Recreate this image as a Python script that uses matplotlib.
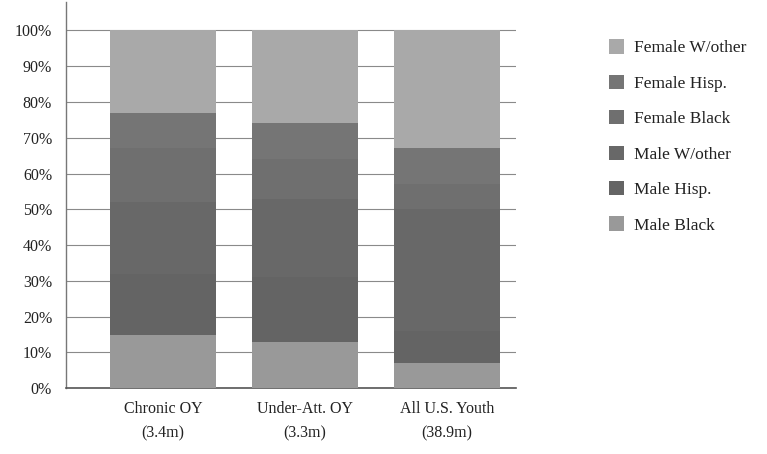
import matplotlib
matplotlib.use("Agg")
import matplotlib.pyplot as plt
import numpy as np

categories = ["Chronic OY\n(3.4m)", "Under-Att. OY\n(3.3m)", "All U.S. Youth\n(38.9m)"]
groups = ["Male Black", "Male Hisp.", "Male W/other", "Female Black", "Female Hisp.", "Female W/other"]
male_black = [15, 13, 7]
male_hisp = [17, 18, 9]
male_wother = [20, 22, 34]
female_black = [15, 11, 7]
female_hisp = [10, 10, 10]
female_wother = [23, 26, 33]
series = [male_black, male_hisp, male_wother, female_black, female_hisp, female_wother]
colors = ["#999999", "#646464", "#686868", "#6f6f6f", "#757575", "#a9a9a9"]
yticks = list(range(0, 101, 10))

plt.rcParams["font.family"] = ["Liberation Serif", "DejaVu Serif"]
fig = plt.figure(figsize=(7.67, 4.54), dpi=100)
ax = fig.add_axes([0.086, 0.145, 0.587, 0.851])

x = np.arange(len(categories))
bottom = np.zeros(len(categories))
handles = []
for vals, col, name in zip(series, colors, groups):
    h = ax.bar(x, vals, bottom=bottom, width=0.75, color=col, edgecolor="none",
               label=name, zorder=3)
    handles.append(h)
    bottom += np.array(vals)

ax.set_xlim(-0.685, 2.49)
ax.set_ylim(0, 108)
ax.set_yticks(yticks)
ax.set_yticklabels([f"{t}%" for t in yticks], fontsize=11.5, color="#222222")
ax.set_xticks(x)
ax.set_xticklabels(categories, fontsize=11.5, color="#222222", linespacing=1.75)
ax.tick_params(axis="x", length=0, pad=9)
ax.tick_params(axis="y", length=0, pad=10)

for t in yticks:
    ax.axhline(t, color="#8a8a8a", lw=0.8, zorder=1)

for side in ["top", "right"]:
    ax.spines[side].set_visible(False)
ax.spines["left"].set_color("#777777")
ax.spines["left"].set_linewidth(1.0)
ax.spines["bottom"].set_color("#555555")
ax.spines["bottom"].set_linewidth(1.2)

fig.legend(handles[::-1], groups[::-1], loc="upper left",
           bbox_to_anchor=(0.773, 0.948), frameon=False, fontsize=12.5,
           handlelength=0.9, handleheight=0.9, handletextpad=0.55,
           labelspacing=1.05, labelcolor="#222222")

fig.savefig("out.png", dpi=100)
